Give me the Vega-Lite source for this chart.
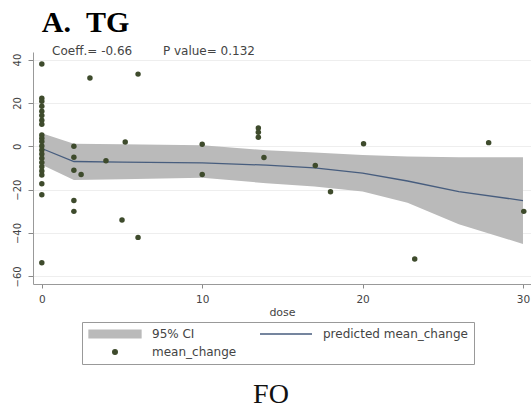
{
  "$schema": "https://vega.github.io/schema/vega-lite/v6.json",
  "autosize": "none",
  "width": 498,
  "height": 232,
  "padding": {"left": 33, "top": 52, "right": 0, "bottom": 126},
  "background": "white",
  "config": {"view": {"stroke": null}},
  "datasets": {
    "points": [
      {"dose": 0, "change": 38}, {"dose": 0, "change": 22.2}, {"dose": 0, "change": 20.8}, {"dose": 0, "change": 18.5},
      {"dose": 0, "change": 16.2}, {"dose": 0, "change": 14.2}, {"dose": 0, "change": 12}, {"dose": 0, "change": 10.2},
      {"dose": 0, "change": 5.2}, {"dose": 0, "change": 3.7}, {"dose": 0, "change": 2.2}, {"dose": 0, "change": 0.2},
      {"dose": 0, "change": -1.7}, {"dose": 0, "change": -3.5}, {"dose": 0, "change": -5.5}, {"dose": 0, "change": -7.5},
      {"dose": 0, "change": -9.4}, {"dose": 0, "change": -11.4}, {"dose": 0, "change": -13.2}, {"dose": 0, "change": -17.3},
      {"dose": 0, "change": -22.3}, {"dose": 0, "change": -53.7},
      {"dose": 2, "change": 0}, {"dose": 2, "change": -5}, {"dose": 2, "change": -11}, {"dose": 2, "change": -25}, {"dose": 2, "change": -30},
      {"dose": 2.45, "change": -13}, {"dose": 3, "change": 31.5}, {"dose": 4, "change": -6.7}, {"dose": 5, "change": -34},
      {"dose": 5.2, "change": 2}, {"dose": 6, "change": 33.3}, {"dose": 6, "change": -42}, {"dose": 10, "change": 1},
      {"dose": 10, "change": -13}, {"dose": 13.5, "change": 8.5}, {"dose": 13.5, "change": 6.5}, {"dose": 13.5, "change": 4.2},
      {"dose": 13.85, "change": -5.2}, {"dose": 17.05, "change": -8.8}, {"dose": 18, "change": -21}, {"dose": 20.06, "change": 1.2},
      {"dose": 23.25, "change": -52}, {"dose": 27.86, "change": 1.7}, {"dose": 30.05, "change": -30}
    ],
    "fit": [
      {"dose": 0, "lo": -8.5, "hi": 6, "fit": -1},
      {"dose": 2, "lo": -15.5, "hi": 1.2, "fit": -7},
      {"dose": 5, "lo": -15.2, "hi": 1, "fit": -7.3},
      {"dose": 10, "lo": -14.5, "hi": 0.5, "fit": -7.6},
      {"dose": 14, "lo": -17, "hi": -1.8, "fit": -8.7},
      {"dose": 17, "lo": -18.5, "hi": -2.8, "fit": -9.9},
      {"dose": 20, "lo": -20.8, "hi": -4, "fit": -12.4},
      {"dose": 22.8, "lo": -26, "hi": -4.7, "fit": -16},
      {"dose": 26, "lo": -36, "hi": -5, "fit": -20.9},
      {"dose": 30, "lo": -45, "hi": -5, "fit": -25}
    ]
  },
  "layer": [
    {
      "data": {"name": "fit"},
      "mark": {"type": "area", "opacity": 1},
      "encoding": {
        "x": {"field": "dose", "type": "quantitative",
          "scale": {"domain": [-0.55, 30.5], "nice": false, "zero": false},
          "axis": {"values": [0, 10, 20, 30], "title": "dose", "grid": false,
            "labelFont": "DejaVu Sans", "labelFontSize": 10.5, "labelColor": "#444",
            "tickColor": "#888", "tickSize": 4, "domainColor": "#999", "labelPadding": 6,
            "titleFont": "DejaVu Sans", "titleFontSize": 11, "titleFontWeight": "normal", "titleColor": "#444", "titlePadding": 2}},
        "y": {"field": "lo", "type": "quantitative",
          "scale": {"domain": [-63.5, 43.5], "nice": false, "zero": false},
          "axis": {"values": [-60, -40, -20, 0, 20, 40], "title": null, "grid": true, "gridColor": "#eeeeee",
            "labelAngle": 270, "labelFont": "DejaVu Sans", "labelFontSize": 10, "labelColor": "#444",
            "tickColor": "#888", "tickSize": 5, "domainColor": "#999", "labelPadding": 6}},
        "y2": {"field": "hi"},
        "color": {"datum": "95% CI", "type": "nominal",
          "scale": {"domain": ["95% CI", "predicted mean_change", "mean_change"], "range": ["#bababa", "#475d7e", "#3e4b2c"]},
          "legend": {
            "title": null, "orient": "none", "legendX": 49, "legendY": 270, "direction": "horizontal", "columns": 2,
            "symbolSize": 2704, "clipHeight": 12, "rowPadding": 6, "columnPadding": 22, "labelOffset": 10,
            "padding": 6, "strokeColor": "#999", "fillColor": "white",
            "labelFont": "DejaVu Sans", "labelFontSize": 12, "labelColor": "#444", "labelLimit": 300,
            "symbolType": {"expr": "datum.value === '95% CI' ? 'M-1,-0.15H1V0.15H-1Z' : datum.value === 'mean_change' ? 'M-0.09,0A0.09,0.09,0,1,1,0.09,0A0.09,0.09,0,1,1,-0.09,0Z' : 'stroke'"},
            "symbolStrokeWidth": 1.3
          }}
      }
    },
    {
      "data": {"name": "fit"},
      "mark": {"type": "line", "strokeWidth": 1.3},
      "encoding": {
        "x": {"field": "dose", "type": "quantitative"},
        "y": {"field": "fit", "type": "quantitative"},
        "color": {"datum": "predicted mean_change", "type": "nominal"}
      }
    },
    {
      "data": {"name": "points"},
      "mark": {"type": "point", "filled": true, "size": 30, "opacity": 1},
      "encoding": {
        "x": {"field": "dose", "type": "quantitative"},
        "y": {"field": "change", "type": "quantitative"},
        "color": {"datum": "mean_change", "type": "nominal"}
      }
    },
    {
      "data": {"values": [{}]},
      "mark": {"type": "text", "font": "Liberation Serif", "fontWeight": "bold", "fontSize": 30, "color": "#000", "align": "left", "baseline": "alphabetic"},
      "encoding": {"x": {"datum": 0, "type": "quantitative"}, "y": {"datum": 52.7, "type": "quantitative"}, "text": {"value": "A.\u00a0\u00a0TG"}}
    },
    {
      "data": {"values": [{}]},
      "mark": {"type": "text", "font": "DejaVu Sans", "fontSize": 12, "color": "#444", "align": "left", "baseline": "alphabetic"},
      "encoding": {"x": {"datum": 0.64, "type": "quantitative"}, "y": {"datum": 42.1, "type": "quantitative"}, "text": {"value": "Coeff.= -0.66"}}
    },
    {
      "data": {"values": [{}]},
      "mark": {"type": "text", "font": "DejaVu Sans", "fontSize": 12, "color": "#444", "align": "left", "baseline": "alphabetic"},
      "encoding": {"x": {"datum": 7.55, "type": "quantitative"}, "y": {"datum": 42.1, "type": "quantitative"}, "text": {"value": "P value= 0.132"}}
    },
    {
      "data": {"values": [{}]},
      "mark": {"type": "text", "font": "Liberation Serif", "fontSize": 28, "color": "#111", "align": "center", "baseline": "alphabetic"},
      "encoding": {"x": {"datum": 14.29, "type": "quantitative"}, "y": {"datum": -118.4, "type": "quantitative"}, "text": {"value": "FO"}}
    }
  ]
}
